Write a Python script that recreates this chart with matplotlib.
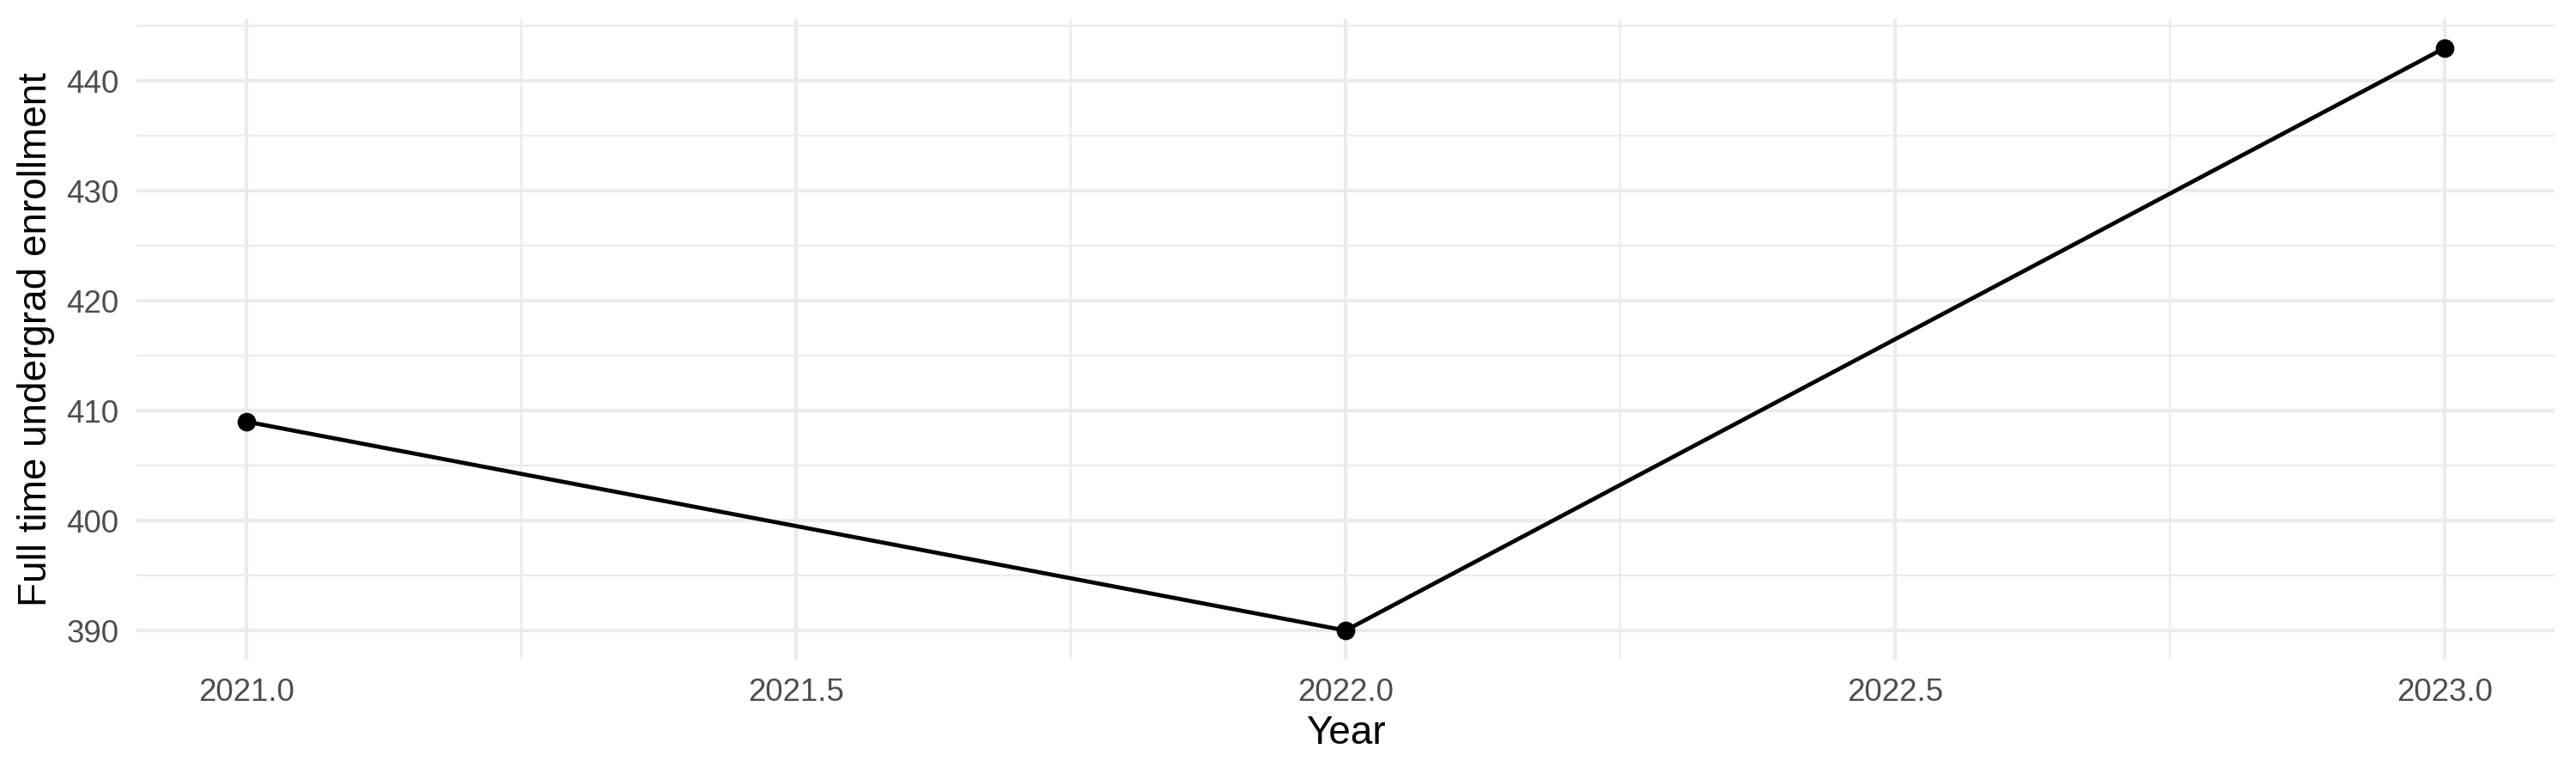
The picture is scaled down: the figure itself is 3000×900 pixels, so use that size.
import matplotlib
matplotlib.use("Agg")
from matplotlib import pyplot as plt
from matplotlib.ticker import MultipleLocator, FormatStrFormatter

# enrollment per year
years = [2021, 2022, 2023]
enrollment = [409, 390, 443]

plt.rcParams['font.family'] = ['Liberation Sans', 'DejaVu Sans']

fig = plt.figure(figsize=(10, 3), dpi=300)
ax = fig.add_axes([0.053, 0.1467, 0.9387, 0.8289])

ax.plot(years, enrollment, color="black", linewidth=1.15, zorder=3)
ax.plot(years, enrollment, "o", color="black", markersize=4.2, zorder=4)

# ggplot-like expansion
xr = max(years) - min(years)
yr = max(enrollment) - min(enrollment)
ax.set_xlim(min(years) - 0.05 * xr, max(years) + 0.05 * xr)
ax.set_ylim(min(enrollment) - 0.05 * yr, max(enrollment) + 0.05 * yr)

ax.xaxis.set_major_locator(MultipleLocator(0.5))
ax.xaxis.set_minor_locator(MultipleLocator(0.25))
ax.xaxis.set_major_formatter(FormatStrFormatter("%.1f"))
ax.yaxis.set_major_locator(MultipleLocator(10))
ax.yaxis.set_minor_locator(MultipleLocator(5))

ax.grid(which="major", color="#EBEBEB", linewidth=1.0, zorder=0)
ax.grid(which="minor", color="#EBEBEB", linewidth=0.55, zorder=0)
ax.set_axisbelow(True)

for s in ax.spines.values():
    s.set_visible(False)
ax.tick_params(which="both", length=0)
ax.tick_params(axis="both", labelsize=8.8, labelcolor="#4D4D4D")
ax.tick_params(axis="x", pad=5)
ax.tick_params(axis="y", pad=5)

ax.set_xlabel("Year", fontsize=11, labelpad=2)
ax.set_ylabel("Full time undergrad enrollment", fontsize=11, labelpad=3)

fig.savefig("out.png", dpi=300)
